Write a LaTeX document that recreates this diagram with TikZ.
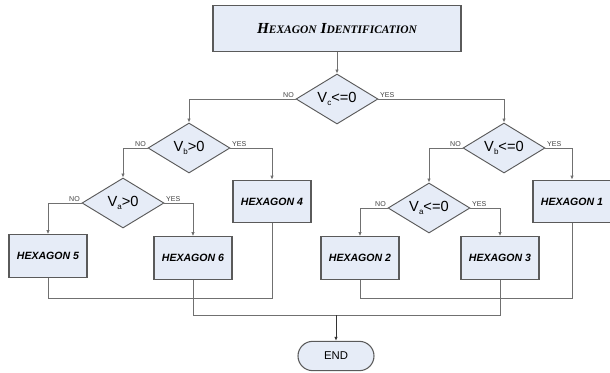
\documentclass[tikz,border=0pt]{standalone}
\usepackage{fontspec}
\setmainfont{Liberation Sans}
\newfontfamily\titlefont{Liberation Serif}
\usetikzlibrary{arrows.meta,positioning,shapes.geometric}
\definecolor{boxfill}{HTML}{E6ECF7}
\definecolor{boxline}{HTML}{5A5A5A}
\definecolor{wire}{HTML}{707070}
\newcommand{\smcap}[1]{{\fontsize{8.6}{10}\selectfont #1}}
\newcommand{\sub}[1]{\raisebox{-2pt}{\fontsize{6}{7}\selectfont #1}}
\tikzstyle{title}=[
	rectangle,
	draw=boxline,
	fill=boxfill,
	line width=0.9pt,
	minimum width=186pt,
	minimum height=35pt,
	font=\titlefont\bfseries\itshape\fontsize{11.5}{13}\selectfont]
\tikzstyle{hexbox}=[
	rectangle,
	draw=boxline,
	fill=boxfill,
	line width=0.8pt,
	minimum width=58.5pt,
	minimum height=32pt,
	font=\fontsize{7.9}{9}\selectfont\bfseries\itshape]
\tikzstyle{ask}=[
	diamond,
	draw=boxline,
	fill=boxfill,
	line width=0.7pt,
	aspect=1.64,
	inner sep=0pt,
	minimum width=61.5pt,
	minimum height=37.5pt,
	font=\fontsize{11}{12}\selectfont]
\tikzstyle{terminal}=[
	rectangle,
	rounded corners=11pt,
	draw=boxline,
	fill=boxfill,
	line width=0.8pt,
	minimum width=57pt,
	minimum height=22pt,
	font=\fontsize{8.5}{10}\selectfont]
\tikzstyle{flow}=[draw=wire,line width=0.6pt,-{Latex[length=3pt,width=2.6pt]}]
\tikzstyle{merge}=[draw=wire,line width=0.6pt]
\tikzstyle{tag}=[font=\fontsize{5.3}{6}\selectfont,inner sep=1pt,text=wire!60!black]
\begin{document}
\begin{tikzpicture}[x=0.75pt,y=-0.75pt]
	\useasboundingbox (0,0) rectangle (610,372);
	% decisions and blocks
	\node[title]	(start)	at (337,28.5)	{H\smcap{EXAGON} I\smcap{DENTIFICATION}};
	\node[ask]	(vc)	at (337,99)	{V\sub{c}<=0};
	\node[ask]	(vbl)	at (189,148)	{V\sub{b}>0};
	\node[ask]	(vbr)	at (504,148)	{V\sub{b}<=0};
	\node[ask]	(val)	at (123,203)	{V\sub{a}>0};
	\node[ask]	(var)	at (429,208)	{V\sub{a}<=0};
	\node[hexbox]	(hex4)	at (272,201.5)	{HEXAGON 4};
	\node[hexbox]	(hex1)	at (572,201.5)	{HEXAGON 1};
	\node[hexbox]	(hex5)	at (48,256)	{HEXAGON 5};
	\node[hexbox]	(hex6)	at (193,258)	{HEXAGON 6};
	\node[hexbox]	(hex2)	at (360,258)	{HEXAGON 2};
	\node[hexbox]	(hex3)	at (500,258)	{HEXAGON 3};
	\node[terminal]	(end)	at (336,356)	{END};
	\coordinate	(joinA)	at (0,298);
	\coordinate	(joinB)	at (0,315);
	% branches
	\draw[flow] (start) -- (vc);
	\draw[flow] (vc.west) -| node[tag,pos=0,above left]{NO} (vbl.north);
	\draw[flow] (vc.east) -| node[tag,pos=0,above right]{YES} (vbr.north);
	\draw[flow] (vbl.west) -| node[tag,pos=0,above left]{NO} (val.north);
	\draw[flow] (vbl.east) -| node[tag,pos=0,above right]{YES} (hex4.north);
	\draw[flow] (vbr.west) -| node[tag,pos=0,above left]{NO} (var.north);
	\draw[flow] (vbr.east) -| node[tag,pos=0,above right]{YES} (hex1.north);
	\draw[flow] (val.west) -| node[tag,pos=0,above left]{NO} (hex5.north);
	\draw[flow] (val.east) -| node[tag,pos=0,above right]{YES} (hex6.north);
	\draw[flow] (var.west) -| node[tag,pos=0,above left]{NO} (hex2.north);
	\draw[flow] (var.east) -| node[tag,pos=0,above right]{YES} (hex3.north);
	% merging lines
	\draw[merge] (hex5.south) -- (hex5.south |- joinA) -| (hex4.south);
	\draw[merge] (hex2.south) -- (hex2.south |- joinA) -| (hex1.south);
	\draw[merge] (hex6.south) -- (hex6.south |- joinB) -| (hex3.south);
	\draw[flow,draw=black!80] (end.north |- joinB) -- (end.north);
\end{tikzpicture}
\end{document}
